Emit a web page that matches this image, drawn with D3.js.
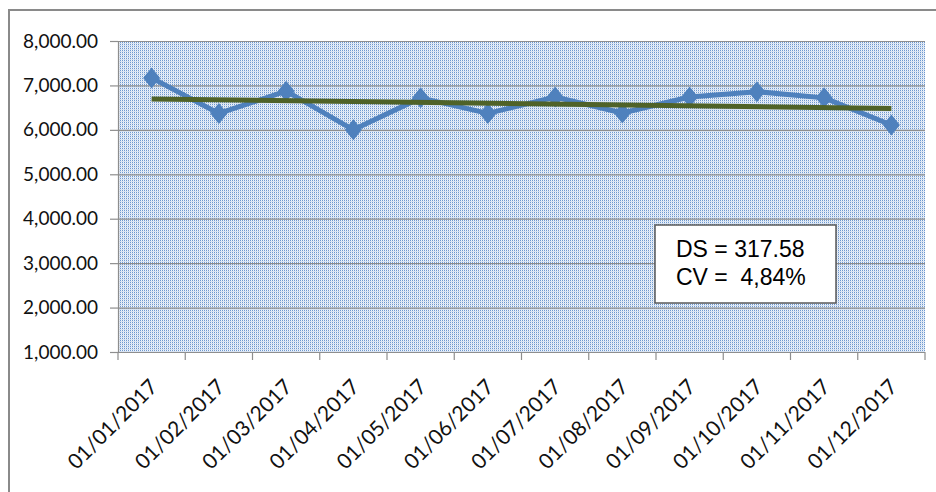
<!DOCTYPE html>
<html>
<head>
<meta charset="utf-8">
<script src="https://cdnjs.cloudflare.com/ajax/libs/d3/7.8.5/d3.min.js"></script>
<style>
html,body{margin:0;padding:0;background:#fff;}
svg{display:block;}
</style>
</head>
<body>
<svg id="chart" width="936" height="492"></svg>
<script>
const categories = ["01/01/2017","01/02/2017","01/03/2017","01/04/2017","01/05/2017","01/06/2017",
                    "01/07/2017","01/08/2017","01/09/2017","01/10/2017","01/11/2017","01/12/2017"];
const values = [7170, 6370, 6870, 6000, 6720, 6370, 6740, 6380, 6740, 6860, 6720, 6110];
const yTicks = [1000, 2000, 3000, 4000, 5000, 6000, 7000, 8000];
const statLines = ["DS = 317.58", "CV =  4,84%"];

const svg = d3.select("#chart");
const plot = {left: 118, right: 925, top: 41, bottom: 352};

// frame
svg.append("rect").attr("x", 9).attr("y", 10).attr("width", 960).attr("height", 520)
  .attr("fill", "none").attr("stroke", "#8a8a8a").attr("stroke-width", 2);

// pattern
const defs = svg.append("defs");
const pat = defs.append("pattern").attr("id", "dots").attr("patternUnits", "userSpaceOnUse")
  .attr("width", 2).attr("height", 2);
pat.append("rect").attr("width", 2).attr("height", 2).attr("fill", "#d6e2f2");
pat.append("rect").attr("x", 0).attr("y", 0).attr("width", 1).attr("height", 1).attr("fill", "#6e98cf");
pat.append("rect").attr("x", 1).attr("y", 0).attr("width", 1).attr("height", 1).attr("fill", "#f2f6fb");

const x = d3.scaleBand().domain(categories).range([plot.left, plot.right]).padding(0);
const y = d3.scaleLinear().domain([1000, 8000]).range([plot.bottom, plot.top]);

svg.append("rect").attr("x", plot.left).attr("y", plot.top)
  .attr("width", plot.right - plot.left).attr("height", plot.bottom - plot.top)
  .attr("fill", "url(#dots)");

// gridlines
svg.append("g").selectAll("line").data(yTicks.filter(t => t > 1000)).join("line")
  .attr("x1", plot.left).attr("x2", plot.right)
  .attr("y1", d => y(d) + 0.5).attr("y2", d => y(d) + 0.5)
  .attr("stroke", "#8e8e8e").attr("stroke-width", 1.2);

// y axis
const yAxis = d3.axisLeft(y).tickValues(yTicks).tickSize(8).tickPadding(12)
  .tickFormat(d => d3.format(",.2f")(d));
const gy = svg.append("g").attr("transform", `translate(${plot.left},0)`).call(yAxis);
gy.select(".domain").attr("stroke", "#8e8e8e").attr("stroke-width", 1.2);
gy.selectAll(".tick line").attr("stroke", "#8e8e8e").attr("stroke-width", 1.2);
gy.selectAll(".tick text").attr("font-family", "Lato, 'Open Sans', sans-serif")
  .attr("font-size", "19px").attr("fill", "#111");

// x axis
const gx = svg.append("g").attr("transform", `translate(0,${plot.bottom})`);
gx.append("line").attr("x1", plot.left - 8).attr("x2", plot.right).attr("y1", 0.5).attr("y2", 0.5)
  .attr("stroke", "#8e8e8e").attr("stroke-width", 1.2);
const bounds = categories.map(c => x(c)).concat([x(categories[categories.length - 1]) + x.bandwidth()]);
gx.selectAll("line.tk").data(bounds).join("line").attr("class", "tk")
  .attr("x1", d => d).attr("x2", d => d).attr("y1", 0).attr("y2", 8)
  .attr("stroke", "#8e8e8e").attr("stroke-width", 1.2);
gx.selectAll("text").data(categories).join("text")
  .attr("transform", d => `translate(${x(d) + x.bandwidth() / 2 + 2},${31}) rotate(-45)`)
  .attr("text-anchor", "end").attr("dy", "0.35em")
  .attr("font-family", "Lato, 'Open Sans', sans-serif").attr("font-size", "21px").attr("fill", "#111")
  .text(d => d);

// series line
const cx = (d, i) => x(categories[i]) + x.bandwidth() / 2;
const line = d3.line().x((d, i) => cx(d, i)).y(d => y(d));
svg.append("path").datum(values).attr("d", line).attr("fill", "none")
  .attr("stroke", "#4f81bd").attr("stroke-width", 5).attr("stroke-linejoin", "round");

// markers
const diamond = "M0,-10.5L8.5,0L0,10.5L-8.5,0Z";
svg.append("g").selectAll("path").data(values).join("path")
  .attr("transform", (d, i) => `translate(${cx(d, i)},${y(d)})`)
  .attr("d", diamond).attr("fill", "#4f81bd");

// linear trend (least squares from the data)
const n = values.length;
const xm = d3.mean(values, (d, i) => i), ym = d3.mean(values);
const slope = d3.sum(values, (d, i) => (i - xm) * (d - ym)) / d3.sum(values, (d, i) => (i - xm) * (i - xm));
const trend = [0, n - 1].map(i => ({i, v: ym + slope * (i - xm)}));
svg.append("path").datum(trend)
  .attr("d", d3.line().x(d => x(categories[d.i]) + x.bandwidth() / 2).y(d => y(d.v)))
  .attr("stroke", "#4f6228").attr("stroke-width", 5).attr("fill", "none");

// stats box
const box = svg.append("g").attr("transform", "translate(655,225)");
box.append("rect").attr("x", 0).attr("y", 0).attr("width", 181).attr("height", 78)
  .attr("fill", "#fff").attr("stroke", "#595959").attr("stroke-width", 1.5);
box.selectAll("text").data(statLines).join("text")
  .attr("x", 21).attr("y", (d, i) => 32 + i * 28)
  .attr("font-family", "'Liberation Sans', Arial, sans-serif").attr("font-size", "23px")
  .attr("fill", "#000").style("white-space", "pre").attr("xml:space", "preserve")
  .text(d => d);
</script>
</body>
</html>
